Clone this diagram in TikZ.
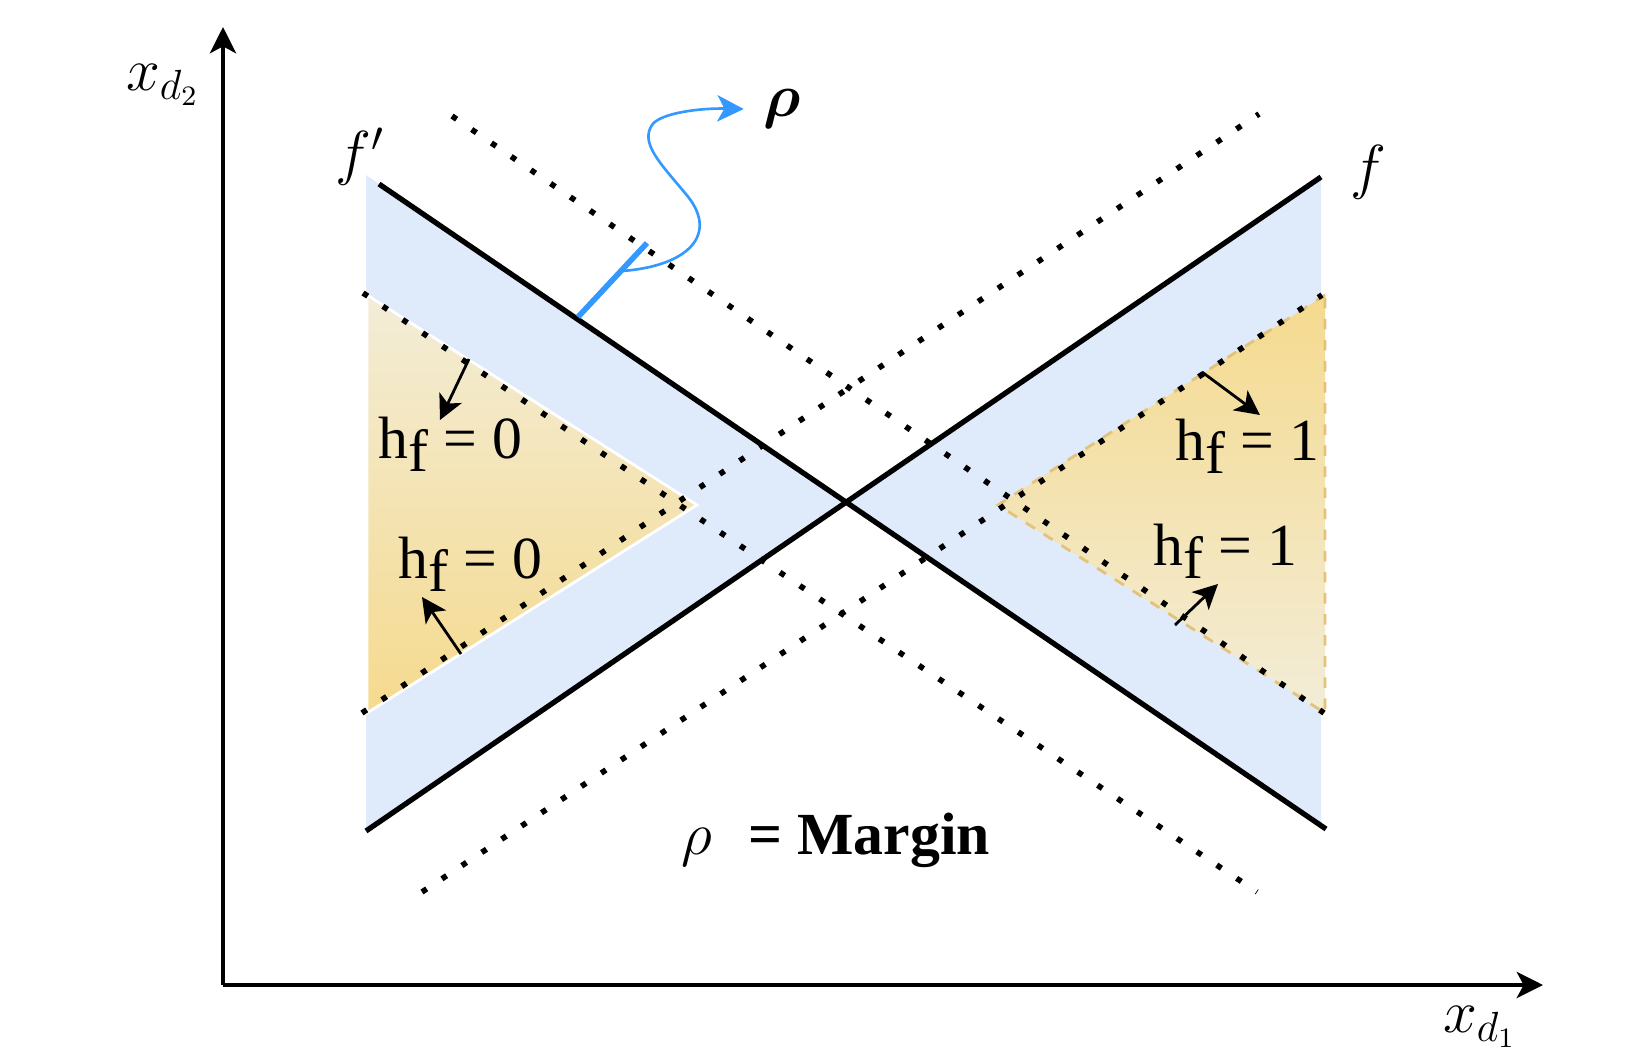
\documentclass[tikz,border=0pt]{standalone}
\usepackage{fontspec}
\usepackage{bm}
\newfontfamily\timesfont{Liberation Serif}
\usetikzlibrary{arrows.meta}
\definecolor{bandblue}{HTML}{DFEAFB}
\definecolor{goldlight}{HTML}{F3EDD8}
\definecolor{golddark}{HTML}{F5DA8E}
\definecolor{goldedge}{HTML}{E3C27A}
\definecolor{marginblue}{HTML}{3399FF}
\tikzset{
  solidline/.style={line width=1.5pt},
  dotline/.style={line width=1.6pt, dash pattern=on 1.6pt off 5.2pt},
  axis/.style={line width=1pt, -{Stealth[length=7.5pt,width=7.5pt,inset=2pt]}},
  push/.style={line width=0.8pt, -{Stealth[length=7pt,width=7pt,inset=1.8pt]}},
  lbl/.style={font=\fontsize{17}{20}\selectfont, inner sep=0pt},
}
\newcommand{\hval}[1]{{\timesfont h\raisebox{-0.22em}{f} = #1}}
\begin{document}
\begin{tikzpicture}
            \useasboundingbox (0,0) rectangle (16.5,10.58);
            \coordinate (O) at (2.23,0.73);
            \coordinate (ytip) at (2.23,10.31);
            \coordinate (xtip) at (15.43,0.73);
            \coordinate (C) at (8.46,5.56);
            % margin bands
            \fill[bandblue] (3.66,8.83) -- (C) -- (3.66,2.27) -- cycle;
            \fill[bandblue] (13.21,8.81) -- (C) -- (13.21,2.32) -- cycle;
            % class regions
            \shadedraw[top color=goldlight, bottom color=golddark, draw=white, line width=0.8pt]
                (3.67,7.63) -- (6.97,5.53) -- (3.67,3.45) -- cycle;
            \shade[top color=golddark, bottom color=goldlight]
                (13.25,7.63) -- (9.98,5.53) -- (13.25,3.45) -- cycle;
            \draw[goldedge, dashed, line width=0.8pt]
                (13.25,7.63) -- (9.98,5.53) -- (13.25,3.45) -- cycle;
            % dotted boundaries
            \draw[dotline] (3.63,7.65) -- (12.57,1.66);
            \draw[dotline] (3.62,3.45) -- (12.59,9.44);
            \draw[dotline] (4.52,9.42) -- (13.24,3.45);
            \draw[dotline] (4.22,1.66) -- (13.22,7.63);
            % classifiers
            \draw[solidline] (3.79,8.74) -- (13.26,2.29);
            \draw[solidline] (3.66,2.27) -- (13.21,8.81);
            % margin marker
            \coordinate (m1) at (5.78,7.41);
            \coordinate (m2) at (6.47,8.15);
            \coordinate (m3) at (6.22,7.87);
            \draw[marginblue, line width=1.6pt] (m1) -- (m2);
            \node[lbl, inner sep=0.19cm] (rho) at (7.82,9.49) {$\bm{\rho}$};
            \draw[marginblue, line width=0.75pt, -{Stealth[length=7.5pt,width=7.5pt,inset=2pt]}]
                (m3) .. controls (6.9,7.92) and (7.2,8.25) .. (6.85,8.65)
                .. controls (6.6,8.95) and (6.4,9.15) .. (6.52,9.33)
                .. controls (6.6,9.45) and (7.0,9.5) .. (rho.west);
            % axes
            \draw[axis] (O) -- (ytip);
            \draw[axis] (O) -- (xtip);
            \node[lbl] (ylab) at (1.63,9.73) {$x_{d_2}$};
            \node[lbl] (xlab) at (14.80,0.31) {$x_{d_1}$};
            \node[lbl] (fprime) at (3.60,9.01) {$f'$};
            \node[lbl] (f) at (13.68,8.86) {$f$};
            \node[lbl] (margin) at (8.36,2.18) {$\rho$\ \ {\timesfont\bfseries = Margin}};
            % region labels and their arrows
            \node[lbl, anchor=base west] (h0a) at (3.78,6.00) {\hval{0}};
            \node[lbl, anchor=base west] (h0b) at (3.98,4.80) {\hval{0}};
            \node[lbl, anchor=base west] (h1a) at (11.75,5.98) {\hval{1}};
            \node[lbl, anchor=base west] (h1b) at (11.53,4.93) {\hval{1}};
            \coordinate (p0a) at (4.69,6.99);
            \coordinate (q0a) at (4.40,6.38);
            \coordinate (p0b) at (4.61,4.04);
            \coordinate (q0b) at (4.22,4.61);
            \coordinate (p1a) at (12.02,6.86);
            \coordinate (q1a) at (12.60,6.43);
            \coordinate (p1b) at (11.75,4.33);
            \coordinate (q1b) at (12.18,4.74);
            \draw[push] (p0a) -- (q0a);
            \draw[push] (p0b) -- (q0b);
            \draw[push] (p1a) -- (q1a);
            \draw[push] (p1b) -- (q1b);
        \end{tikzpicture}
\end{document}
